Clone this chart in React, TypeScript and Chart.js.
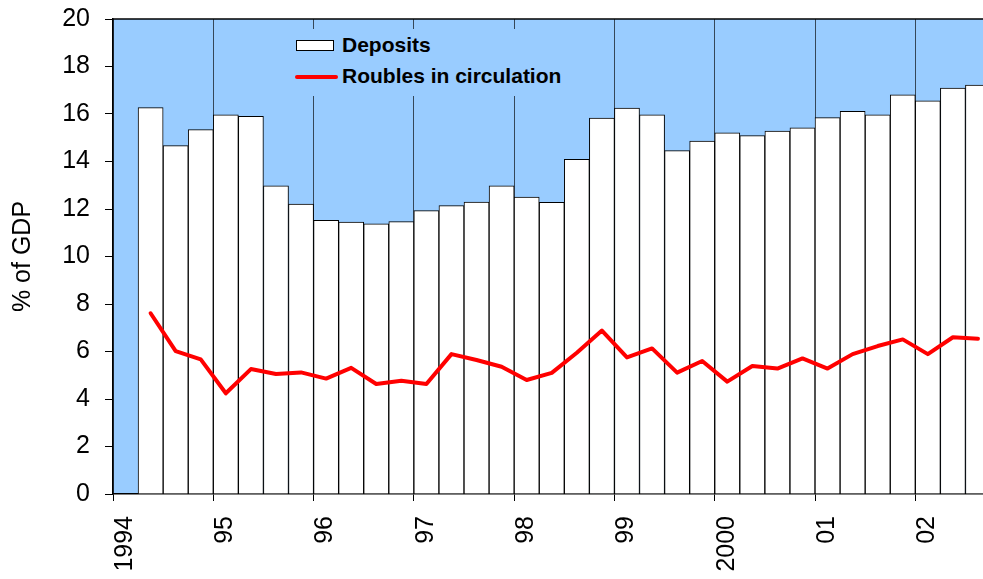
import React, { useEffect, useRef } from 'react';
import { Chart, registerables } from 'chart.js';

Chart.register(...registerables);

// Quarterly data, 1994 Q1 .. 2002 Q3
const quarters = [
  '1994Q1', '1994Q2', '1994Q3', '1994Q4',
  '1995Q1', '1995Q2', '1995Q3', '1995Q4',
  '1996Q1', '1996Q2', '1996Q3', '1996Q4',
  '1997Q1', '1997Q2', '1997Q3', '1997Q4',
  '1998Q1', '1998Q2', '1998Q3', '1998Q4',
  '1999Q1', '1999Q2', '1999Q3', '1999Q4',
  '2000Q1', '2000Q2', '2000Q3', '2000Q4',
  '2001Q1', '2001Q2', '2001Q3', '2001Q4',
  '2002Q1', '2002Q2', '2002Q3',
];

const deposits: (number | null)[] = [
  null, 16.27, 14.67, 15.34,
  15.97, 15.9, 12.98, 12.21,
  11.52, 11.45, 11.38, 11.47,
  11.93, 12.14, 12.29, 12.98,
  12.5, 12.28, 14.09, 15.83,
  16.25, 15.97, 14.46, 14.86,
  15.21, 15.09, 15.28, 15.42,
  15.85, 16.11, 15.96, 16.81,
  16.55, 17.09, 17.22,
];

const roubles: (number | null)[] = [
  null, 7.61, 6.02, 5.67,
  4.24, 5.26, 5.05, 5.12,
  4.86, 5.31, 4.63, 4.77,
  4.63, 5.89, 5.64, 5.36,
  4.8, 5.1, 5.95, 6.88,
  5.75, 6.13, 5.11, 5.6,
  4.73, 5.39, 5.28, 5.71,
  5.28, 5.89, 6.23, 6.51,
  5.89, 6.6, 6.54,
];

const seriesNames = ['Deposits', 'Roubles in circulation'];
const yearTicks = [0, 4, 8, 12, 16, 20, 24, 28, 32];
const yearLabels = ['1994', '95', '96', '97', '98', '99', '2000', '01', '02'];
const yMin = 0;
const yMax = 20;
const yStep = 2;
const xMax = 34.7; // visible quarter range (last bar is cut at the frame)

const FONT = "'Liberation Sans', Arial, sans-serif";
const BLUE = '#99CCFF';

const framePlugin = {
  id: 'frame',
  beforeDraw(chart: any) {
    const { ctx, chartArea: a } = chart;
    ctx.save();
    ctx.fillStyle = BLUE;
    ctx.fillRect(a.left, a.top, a.right - a.left, a.bottom - a.top);
    ctx.restore();
  },
  afterDraw(chart: any) {
    const { ctx, chartArea: a } = chart;
    ctx.save();
    ctx.strokeStyle = '#000';
    ctx.lineWidth = 1.5;
    ctx.beginPath();
    ctx.moveTo(a.left, a.top);
    ctx.lineTo(a.right, a.top);
    ctx.stroke();
    ctx.restore();
  },
};

export default function App() {
  const ref = useRef<HTMLCanvasElement>(null);

  useEffect(() => {
    document.body.style.margin = '0';
    const barData = quarters.map((_, i) => ({ x: i + 0.5, y: deposits[i] }));
    const lineData = quarters.map((_, i) => ({ x: i + 0.5, y: roubles[i] }));

    const chart = new Chart(ref.current as HTMLCanvasElement, {
      type: 'bar',
      data: {
        datasets: [
          {
            type: 'line',
            label: seriesNames[1],
            data: lineData as any,
            borderColor: '#FF0000',
            borderWidth: 4,
            pointRadius: 0,
            tension: 0,
            borderCapStyle: 'round',
            borderJoinStyle: 'round',
            order: 0,
          } as any,
          {
            type: 'bar',
            label: seriesNames[0],
            data: barData as any,
            backgroundColor: '#FFFFFF',
            borderColor: '#000000',
            borderWidth: 1,
            barPercentage: 1,
            categoryPercentage: 1,
            clip: 0,
            order: 1,
          } as any,
        ],
      },
      options: {
        responsive: false,
        animation: false,
        layout: { padding: { top: 19, right: 0, bottom: 0, left: 0 } },
        plugins: {
          legend: { display: false },
          tooltip: { enabled: false },
        },
        scales: {
          x: {
            type: 'linear',
            min: 0,
            max: xMax,
            offset: false,
            afterBuildTicks: (scale: any) => {
              scale.ticks = yearTicks.map((v) => ({ value: v }));
            },
            afterFit: (scale: any) => {
              scale.height = 85;
              scale.paddingLeft = 0;
              scale.paddingRight = 0;
            },
            grid: {
              offset: false,
              drawOnChartArea: true,
              color: 'rgba(0,0,0,0.65)',
              lineWidth: 1,
              tickLength: 7,
              tickColor: '#000',
            },
            border: { display: true, color: '#000', width: 1.5 },
            ticks: {
              autoSkip: false,
              minRotation: 90,
              maxRotation: 90,
              labelOffset: 12,
              padding: 15,
              color: '#000',
              font: { family: FONT, size: 25 },
              callback: (value: any) => {
                const idx = yearTicks.indexOf(Number(value));
                return idx >= 0 ? yearLabels[idx] : '';
              },
            },
          },
          y: {
            type: 'linear',
            min: yMin,
            max: yMax,
            afterFit: (scale: any) => {
              scale.width = 113;
              scale.paddingTop = 0;
              scale.paddingBottom = 0;
            },
            grid: {
              drawOnChartArea: false,
              tickLength: 8,
              tickColor: '#000',
            },
            border: { display: true, color: '#000', width: 1.5 },
            ticks: {
              stepSize: yStep,
              padding: 15,
              color: '#000',
              font: { family: FONT, size: 25 },
            },
            title: {
              display: true,
              text: '% of GDP',
              color: '#000',
              font: { family: FONT, size: 25 },
              padding: { top: 8, bottom: 0 },
            },
          },
        },
      },
      plugins: [framePlugin],
    });
    return () => chart.destroy();
  }, []);

  return (
    <div style={{ position: 'relative', width: 983, height: 579 }}>
      <canvas ref={ref} width={983} height={579} style={{ display: 'block', width: 983, height: 579 }} />
      <div
        style={{
          position: 'absolute',
          left: 287,
          top: 29,
          width: 293,
          height: 67,
          background: BLUE,
          fontFamily: FONT,
          fontWeight: 'bold',
          fontSize: 21,
          color: '#000',
        }}
      >
        <div
          style={{
            position: 'absolute',
            left: 9,
            top: 11,
            width: 36,
            height: 9,
            background: '#FFFFFF',
            border: '1.5px solid #000',
          }}
        />
        <div style={{ position: 'absolute', left: 55, top: 4, lineHeight: '24px', whiteSpace: 'nowrap' }}>
          {seriesNames[0]}
        </div>
        <div
          style={{
            position: 'absolute',
            left: 8,
            top: 45.7,
            width: 43,
            height: 4,
            borderRadius: 2,
            background: '#FF0000',
          }}
        />
        <div style={{ position: 'absolute', left: 55, top: 35, lineHeight: '24px', whiteSpace: 'nowrap' }}>
          {seriesNames[1]}
        </div>
      </div>
    </div>
  );
}
